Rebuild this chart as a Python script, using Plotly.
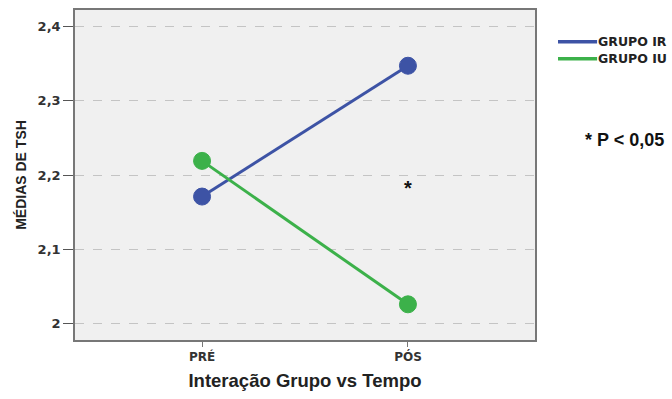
import plotly.graph_objects as go

# Mean TSH by group across time points
tempos = ["PRÉ", "PÓS"]
grupos = ["GRUPO IR", "GRUPO IU"]
grupo_ir = [2.171, 2.347]
grupo_iu = [2.219, 2.026]
y_ticks = [2.0, 2.1, 2.2, 2.3, 2.4]

cores = ["#3d53a5", "#3cb14a"]

fig = go.Figure()
x_pos = list(range(len(tempos)))

for nome, vals, cor in zip(grupos, [grupo_ir, grupo_iu], cores):
    fig.add_trace(go.Scatter(
        x=x_pos, y=vals, mode="lines+markers", name=nome, showlegend=False,
        line=dict(color=cor, width=3),
        marker=dict(color=cor, size=17, line=dict(color=cor, width=1)),
        hoverinfo="skip",
    ))

# Legend drawn as key line + label, in paper coordinates
leg_y = [0.9036, 0.8524]
for nome, cor, yy in zip(grupos, cores, leg_y):
    fig.add_shape(type="line", xref="paper", yref="paper",
                  x0=1.05, x1=1.135, y0=yy, y1=yy,
                  line=dict(color=cor, width=3.5))
    fig.add_annotation(x=1.132, y=yy, xref="paper", yref="paper",
                       xanchor="left", yanchor="middle", showarrow=False,
                       text=f"<b>{nome}</b>",
                       font=dict(family="DejaVu Sans", size=12.5, color="#222"))

fig.add_annotation(x=1, y=2.2, yanchor="top", text="<b>*</b>", showarrow=False,
                   font=dict(family="Arial", size=20, color="#111"))
fig.add_annotation(x=1.104, y=0.605, xref="paper", yref="paper", xanchor="left",
                   text="<b>* P < 0,05</b>", showarrow=False,
                   font=dict(family="Arial", size=18, color="#111"))

fig.update_layout(
    width=672, height=399,
    margin=dict(l=75, r=137, t=8, b=59),
    paper_bgcolor="white",
    plot_bgcolor="#f0f0f0",
    separators=",.",
    showlegend=False,
    font=dict(family="Arial", color="#222"),
    xaxis=dict(
        range=[-0.617, 1.617], tickvals=x_pos, ticktext=tempos,
        showgrid=False, zeroline=False,
        showline=True, linecolor="#777", linewidth=1.5, mirror=True,
        ticks="outside", ticklen=5, tickcolor="#777",
        tickfont=dict(family="DejaVu Sans", size=12, color="#333", weight="bold"),
        title=dict(text="Interação Grupo vs Tempo", standoff=11,
                   font=dict(family="Arial", size=18.5, color="#222", weight="bold")),
    ),
    yaxis=dict(
        range=[1.978, 2.422], tickvals=y_ticks,
        showgrid=True, gridcolor="#c4c4c4", griddash="dash", gridwidth=1,
        zeroline=False,
        showline=True, linecolor="#777", linewidth=1.5, mirror=True,
        ticks="outside", ticklen=10, tickcolor="#555",
        tickfont=dict(family="DejaVu Sans", size=13, color="#333", weight="bold"),
        title=dict(text="MÉDIAS DE TSH", standoff=8,
                   font=dict(family="Arial", size=14, color="#222", weight="bold")),
    ),
)

fig.write_html("out.html")
